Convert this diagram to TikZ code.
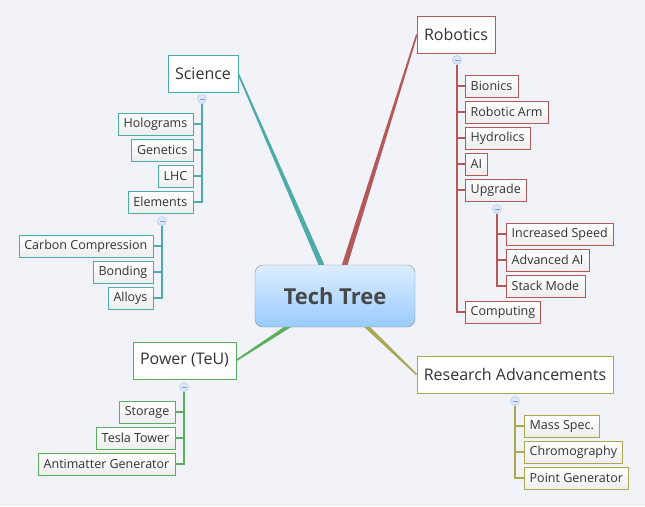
\documentclass[tikz,border=0pt]{standalone}
\usepackage{fontspec}
\setmainfont{Open Sans}
\usetikzlibrary{calc,positioning}

\definecolor{bgcol}{HTML}{F1F3F8}
\definecolor{robred}{HTML}{B25A5A}
\definecolor{sciteal}{HTML}{4FAAAA}
\definecolor{powgreen}{HTML}{5BAE5B}
\definecolor{resolive}{HTML}{A9A752}
\definecolor{txtgray}{HTML}{333333}
\definecolor{foldblue}{HTML}{DCE8FA}
\definecolor{foldedge}{HTML}{A9C2EE}
\definecolor{techtop}{HTML}{DCEEFF}
\definecolor{techbot}{HTML}{99CBFF}

\pgfdeclarelayer{background}
\pgfsetlayers{background,main}

% tapered main branch: colour, from, to
\newcommand{\branch}[3]{%
  \fill[#1] ($(#2)!3pt!90:(#3)$) -- ($(#3)!0.8pt!-90:(#2)$)
    -- ($(#3)!0.8pt!90:(#2)$) -- ($(#2)!3pt!-90:(#3)$) -- cycle;}

\begin{document}
\begin{tikzpicture}[x=1pt,y=-1pt,
    central/.style={draw=gray!90, rounded corners=8pt, top color=techtop,
        bottom color=techbot, minimum width=160, minimum height=62,
        font=\fontsize{22}{26}\selectfont\bfseries, text=txtgray!90},
    topic/.style={draw, fill=white, minimum height=37, inner xsep=7,
        font=\fontsize{16}{19}\selectfont, text=txtgray},
    sub/.style={draw, top color=white, bottom color=gray!14, minimum height=22,
        inner xsep=5.5, inner ysep=0, font=\fontsize{12.5}{15}\selectfont, text=txtgray},
    fold/.style={circle, draw=foldedge, fill=foldblue, minimum size=9, inner sep=0,
        path picture={\draw[foldedge!80!black, line width=0.6]
            ($(path picture bounding box.center)+(-2.5pt,0)$) -- ++(5pt,0);}},
    link/.style={line width=1.3}]

    \node[central] (tech) at (335,296) {Tech Tree};

    % Robotics
    \node[topic,draw=robred] (rob) at (456,34.5) {Robotics};
    \node[fold] (rfold) at (457,60) {};
    \node[sub,draw=robred,anchor=west] (bion) at (465,86) {Bionics};
    \node[sub,draw=robred,anchor=west] (arm) at (465,112) {Robotic Arm};
    \node[sub,draw=robred,anchor=west] (hydro) at (465,138) {Hydrolics};
    \node[sub,draw=robred,anchor=west] (ai) at (465,164) {AI};
    \node[sub,draw=robred,anchor=west] (upg) at (465,190) {Upgrade};
    \node[fold] (ufold) at (497,209) {};
    \node[sub,draw=robred,anchor=west] (speed) at (506,234) {Increased Speed};
    \node[sub,draw=robred,anchor=west] (advai) at (506,260) {Advanced AI};
    \node[sub,draw=robred,anchor=west] (stack) at (506,286) {Stack Mode};
    \node[sub,draw=robred,anchor=west] (comp) at (465,312) {Computing};

    % Science
    \node[topic,draw=sciteal] (sci) at (203,73.5) {Science};
    \node[fold] (sfold) at (202,99) {};
    \node[sub,draw=sciteal,anchor=east] (holo) at (193,124) {Holograms};
    \node[sub,draw=sciteal,anchor=east] (gene) at (193,150) {Genetics};
    \node[sub,draw=sciteal,anchor=east] (lhc) at (193,176) {LHC};
    \node[sub,draw=sciteal,anchor=east] (elem) at (193,202) {Elements};
    \node[fold] (efold) at (162,221) {};
    \node[sub,draw=sciteal,anchor=east] (carb) at (153,246) {Carbon Compression};
    \node[sub,draw=sciteal,anchor=east] (bond) at (153,272) {Bonding};
    \node[sub,draw=sciteal,anchor=east] (alloy) at (153,298) {Alloys};

    % Power
    \node[topic,draw=powgreen] (pow) at (184.5,360.5) {Power (TeU)};
    \node[fold] (pfold) at (184,387) {};
    \node[sub,draw=powgreen,anchor=east] (stor) at (175,412) {Storage};
    \node[sub,draw=powgreen,anchor=east] (tesla) at (175,438) {Tesla Tower};
    \node[sub,draw=powgreen,anchor=east] (anti) at (175,464) {Antimatter Generator};

    % Research
    \node[topic,draw=resolive] (res) at (515,374.5) {Research Advancements};
    \node[fold] (afold) at (515,401) {};
    \node[sub,draw=resolive,anchor=west] (mass) at (524,426) {Mass Spec.};
    \node[sub,draw=resolive,anchor=west] (chrom) at (524,452) {Chromography};
    \node[sub,draw=resolive,anchor=west] (point) at (524,478) {Point Generator};

    \begin{pgfonlayer}{background}
        \fill[bgcol] (0,0) rectangle (645,506);
        \branch{sciteal}{tech.center}{sci.east}
        \branch{robred}{tech.center}{rob.west}
        \branch{powgreen}{tech.center}{pow.east}
        \branch{resolive}{tech.center}{res.west}
    \end{pgfonlayer}

    \foreach \c in {bion,arm,hydro,ai,upg,comp}
        \draw[link,robred] (rfold.south) |- (\c.west);
    \foreach \c in {speed,advai,stack}
        \draw[link,robred] (ufold.south) |- (\c.west);
    \foreach \c in {holo,gene,lhc,elem}
        \draw[link,sciteal] (sfold.south) |- (\c.east);
    \foreach \c in {carb,bond,alloy}
        \draw[link,sciteal] (efold.south) |- (\c.east);
    \foreach \c in {stor,tesla,anti}
        \draw[link,powgreen] (pfold.south) |- (\c.east);
    \foreach \c in {mass,chrom,point}
        \draw[link,resolive] (afold.south) |- (\c.west);
\end{tikzpicture}
\end{document}
